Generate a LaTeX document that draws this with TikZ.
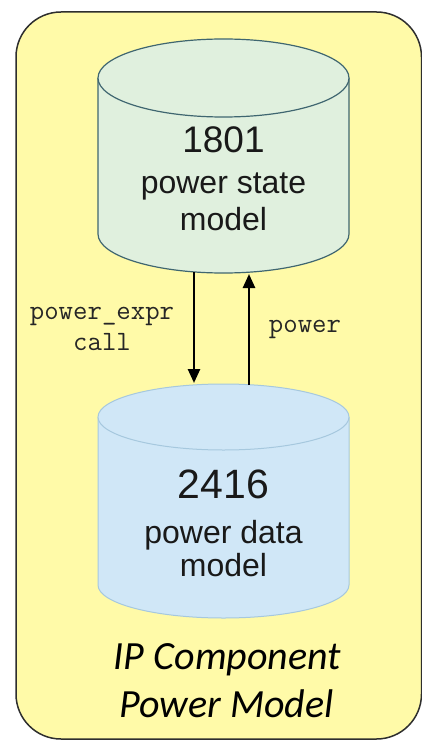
\documentclass[tikz,border=0pt]{standalone}
\usepackage{fontspec}
\setmainfont{Liberation Sans}
\newfontfamily\carl{Carlito}
\usetikzlibrary{arrows.meta}
\definecolor{boxyellow}{HTML}{FFFAA8}
\definecolor{boxline}{HTML}{2E2E2E}
\definecolor{cylgreen}{HTML}{E0F0DE}
\definecolor{cylgreenline}{HTML}{3F6670}
\definecolor{cylblue}{HTML}{D0E7F7}
\definecolor{cylblueline}{HTML}{A6C8DE}
\tikzset{
  outerbox/.style={draw=boxline,fill=boxyellow,line width=1.5pt,rounded corners=45pt},
  bigtxt/.style={anchor=base,inner sep=0pt,text=black!90,font=\fontsize{32}{36}\selectfont},
  numtxt/.style={anchor=base,inner sep=0pt,text=black!90},
  monotxt/.style={anchor=base,inner sep=0pt,text=black!85,font=\ttfamily\fontsize{28}{31}\selectfont},
  titletxt/.style={anchor=base,inner sep=0pt,text=black,font=\carl\itshape\fontsize{40}{44}\selectfont},
  flow/.style={line width=2.5pt,-{Triangle[width=12pt,length=14pt]}}
}
\begin{document}
\begin{tikzpicture}[x=1pt,y=1pt]
\useasboundingbox (0,0) rectangle (422,-741);
\fill[white] (0,0) rectangle (422,-741);
% outer box
\path[outerbox] (16,-12) rectangle (421.5,-739);
% top cylinder
\path[fill=cylgreen] (98,-78) -- (98,-234)
  arc[start angle=180,end angle=360,x radius=125.5pt,y radius=39pt] -- (349,-78) -- cycle;
\draw[cylgreenline,line width=1.2pt] (98,-78) -- (98,-234)
  arc[start angle=180,end angle=360,x radius=125.5pt,y radius=39pt] -- (349,-78);
\draw[cylgreenline,fill=cylgreen,line width=1.2pt] (223.5,-78) ellipse[x radius=125.5pt,y radius=39pt];
% bottom cylinder
\path[fill=cylblue] (98,-417) -- (98,-585)
  arc[start angle=180,end angle=360,x radius=125.5pt,y radius=33pt] -- (349,-417) -- cycle;
\draw[cylblueline,line width=1pt] (98,-417) -- (98,-585)
  arc[start angle=180,end angle=360,x radius=125.5pt,y radius=33pt] -- (349,-417);
\draw[cylblueline,fill=cylblue,line width=1pt] (223.5,-417) ellipse[x radius=125.5pt,y radius=33pt];
% texts top
\node[numtxt,font=\fontsize{37}{40}\selectfont] (n1801) at (223.5,-152) {1801};
\node[bigtxt] (pstate) at (223.5,-193) {power state};
\node[bigtxt] (pmodel1) at (223.5,-230) {model};
% texts bottom
\node[numtxt,font=\fontsize{41}{44}\selectfont] (n2416) at (223.5,-498) {2416};
\node[bigtxt] (pdata) at (223.5,-543) {power data};
\node[bigtxt] (pmodel2) at (223.5,-576) {model};
% arrows
\coordinate (dstart) at (194,-272);
\coordinate (dend) at (194,-383);
\coordinate (ustart) at (249,-385);
\coordinate (uend) at (249,-274);
\draw[flow] (dstart) -- (dend);
\draw[flow] (ustart) -- (uend);
% labels
\node[monotxt] (lexpr) at (102,-319) {power\_expr};
\node[monotxt] (lcall) at (102,-350) {call};
\node[monotxt] (lpower) at (305,-332) {power};
% title
\node[titletxt] (t1) at (227.5,-669) {IP Component};
\node[titletxt] (t2) at (226.7,-717) {Power Model};
\end{tikzpicture}
\end{document}
